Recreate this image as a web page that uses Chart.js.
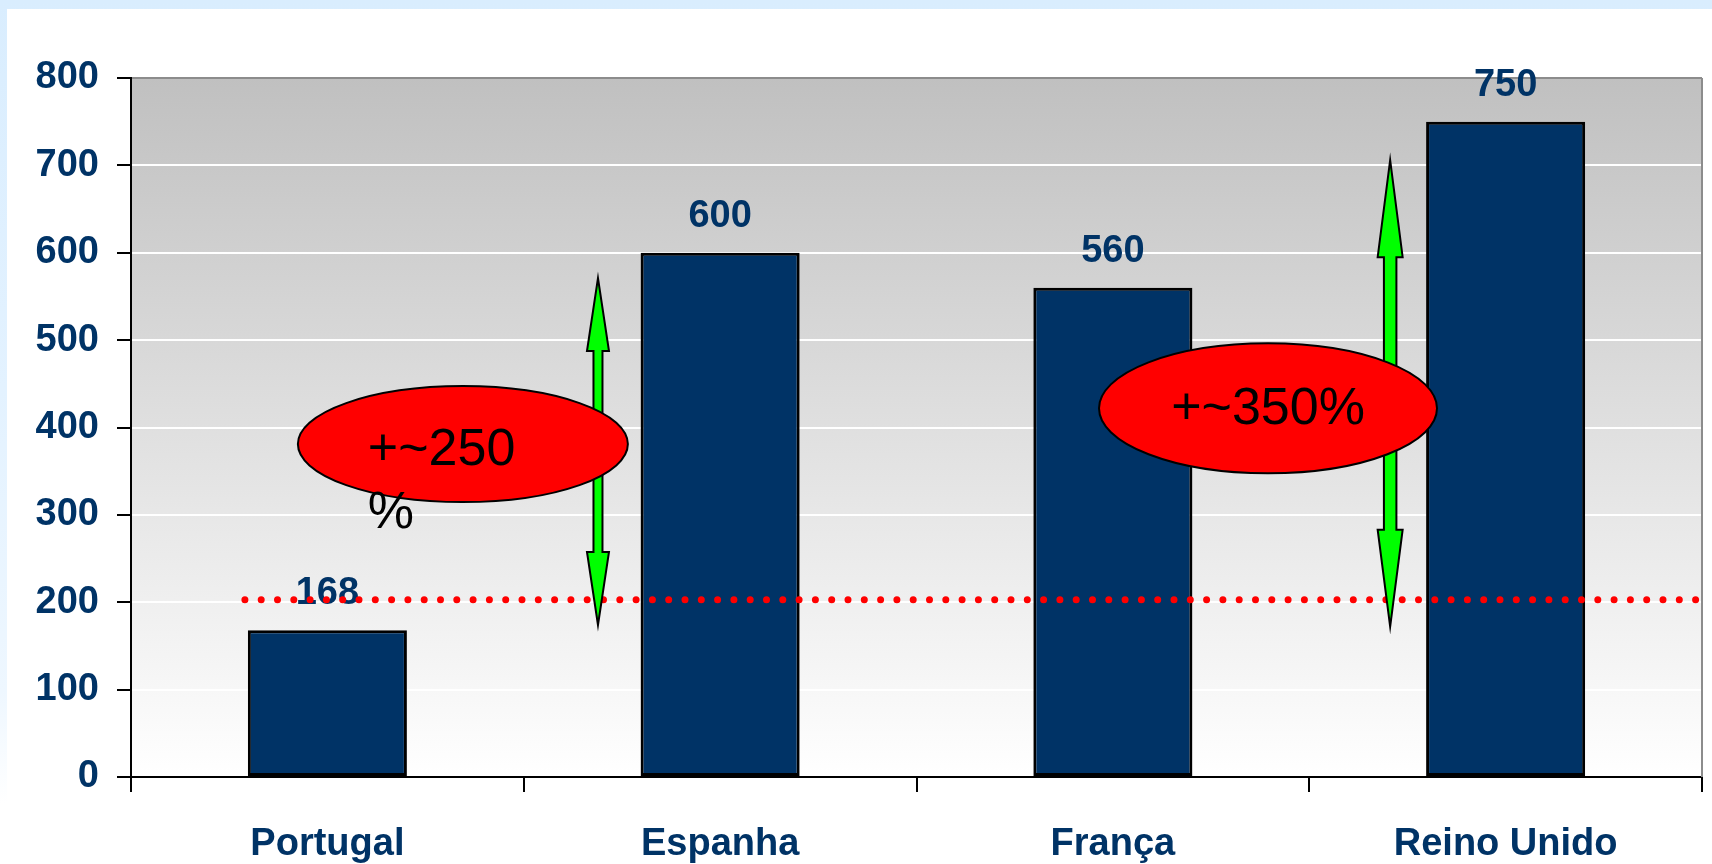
<!DOCTYPE html>
<html><head><meta charset="utf-8">
<script src="https://cdn.jsdelivr.net/npm/chart.js@4/dist/chart.umd.min.js"></script>
<style>
html,body{margin:0;padding:0;width:1712px;height:864px;overflow:hidden;}
body{background:linear-gradient(180deg,#d9edfe 0%,#e3f2ff 45%,#eef7ff 80%,#ffffff 93%);}
#panel{position:absolute;left:7px;top:9px;right:0;bottom:0;background:#ffffff;}
#wrap{position:absolute;left:0;top:0;width:1712px;height:864px;}
</style></head><body>
<div id="panel"></div>
<div id="wrap"><canvas id="c" width="1712" height="864"></canvas></div>
<script>
// ---- data ----
const categories = ['Portugal', 'Espanha', 'França', 'Reino Unido'];
const values = [168, 600, 560, 750];
const yTickValues = [0, 100, 200, 300, 400, 500, 600, 700, 800];
// reference dotted line (x in category-index units, y in data units)
const refLineX = [-0.21, 3.5];
const refLineY = [203, 203];
// green double arrows
const arrowX = [0.689, 2.706];
const arrowTop = [571, 706];
const arrowBottom = [174, 172];
// red callout ellipses
const bubbleX = [0.345, 2.395];
const bubbleY = [381, 422];
const bubbleLines = [['+~250', '%'], ['+~350%']];

// ---- styles ----
const NAVY = '#003366';
const FONT = "'Liberation Sans', Arial, Helvetica, sans-serif";
const arrowStyle = [
  {shaft: 9, headW: 22, headL: 73},
  {shaft: 12.5, headW: 25, headL: 97}
];
const bubbleStyle = [
  {rx: 165, ry: 58, align: 'left', dx: -95, dy: 21, lh: 63},
  {rx: 169, ry: 65, align: 'center', dx: 0, dy: 16, lh: 63}
];

const plotBg = {
  id: 'plotBg',
  beforeDraw(chart) {
    const {ctx, chartArea: a} = chart;
    const g = ctx.createLinearGradient(0, a.top, 0, a.bottom);
    g.addColorStop(0, '#c0c0c0');
    g.addColorStop(1, '#ffffff');
    ctx.save();
    ctx.fillStyle = g;
    ctx.fillRect(a.left, a.top, a.right - a.left, a.bottom - a.top);
    ctx.restore();
  },
  beforeDatasetsDraw(chart) {
    const {ctx, chartArea: a} = chart;
    ctx.save();
    ctx.strokeStyle = '#8c8c8c';
    ctx.lineWidth = 2;
    ctx.beginPath();
    ctx.moveTo(a.right, a.top);
    ctx.lineTo(a.right, a.bottom);
    ctx.stroke();
    ctx.strokeStyle = '#000';
    ctx.beginPath();
    ctx.moveTo(a.right, a.bottom);
    ctx.lineTo(a.right, a.bottom + 15);
    ctx.stroke();
    ctx.restore();
  }
};

const barLabels = {
  id: 'barLabels',
  afterDatasetDraw(chart, args) {
    if (args.meta.type !== 'bar') return;
    const ctx = chart.ctx;
    ctx.save();
    ctx.font = 'bold 38px ' + FONT;
    ctx.fillStyle = NAVY;
    ctx.textAlign = 'center';
    ctx.textBaseline = 'alphabetic';
    args.meta.data.forEach((el, i) => {
      ctx.fillText(String(values[i]), el.x, el.y - 26);
    });
    ctx.restore();
  }
};

const annotations = {
  id: 'annotations',
  afterDatasetsDraw(chart) {
    const ctx = chart.ctx;
    const xs = chart.scales.xl, ys = chart.scales.y;
    ctx.save();
    arrowX.forEach((xv, i) => {
      const s = arrowStyle[i];
      const cx = xs.getPixelForValue(xv);
      const t = ys.getPixelForValue(arrowTop[i]);
      const b = ys.getPixelForValue(arrowBottom[i]);
      const hw = s.headW / 2, sw = s.shaft / 2, hl = s.headL;
      ctx.beginPath();
      ctx.moveTo(cx, t);
      ctx.lineTo(cx + hw, t + hl);
      ctx.lineTo(cx + sw, t + hl);
      ctx.lineTo(cx + sw, b - hl);
      ctx.lineTo(cx + hw, b - hl);
      ctx.lineTo(cx, b);
      ctx.lineTo(cx - hw, b - hl);
      ctx.lineTo(cx - sw, b - hl);
      ctx.lineTo(cx - sw, t + hl);
      ctx.lineTo(cx - hw, t + hl);
      ctx.closePath();
      ctx.fillStyle = '#00ff00';
      ctx.fill();
      ctx.lineWidth = 2;
      ctx.lineJoin = 'miter';
      ctx.strokeStyle = '#000';
      ctx.stroke();
    });
    bubbleX.forEach((xv, i) => {
      const s = bubbleStyle[i];
      const cx = xs.getPixelForValue(xv);
      const cy = ys.getPixelForValue(bubbleY[i]);
      ctx.beginPath();
      ctx.ellipse(cx, cy, s.rx, s.ry, 0, 0, Math.PI * 2);
      ctx.fillStyle = '#ff0000';
      ctx.fill();
      ctx.lineWidth = 2;
      ctx.strokeStyle = '#000';
      ctx.stroke();
      ctx.font = '52px ' + FONT;
      ctx.fillStyle = '#000';
      ctx.textAlign = s.align;
      ctx.textBaseline = 'alphabetic';
      bubbleLines[i].forEach((line, k) => {
        ctx.fillText(line, cx + s.dx, cy + s.dy + k * s.lh);
      });
    });
    ctx.restore();
  }
};

new Chart(document.getElementById('c'), {
  type: 'bar',
  data: {
    labels: categories,
    datasets: [
      {
        type: 'bar',
        data: values,
        backgroundColor: NAVY,
        borderColor: '#000000',
        borderWidth: 3,
        borderSkipped: false,
        grouped: false,
        categoryPercentage: 1,
        barPercentage: 0.405,
        order: 1
      },
      {
        type: 'line',
        xAxisID: 'xl',
        data: refLineX.map((x, i) => ({x: x, y: refLineY[i]})),
        borderColor: '#ff0000',
        borderWidth: 7,
        borderDash: [0, 16.3],
        borderCapStyle: 'round',
        pointRadius: 0,
        fill: false,
        order: 0
      }
    ]
  },
  options: {
    responsive: false,
    animation: false,
    devicePixelRatio: 1,
    layout: {padding: {top: 78, right: 10, left: 0, bottom: 0}},
    plugins: {legend: {display: false}, tooltip: {enabled: false}},
    scales: {
      x: {
        type: 'category',
        offset: true,
        afterFit(scale) { scale.height = 87; },
        grid: {
          display: true, drawOnChartArea: false, offset: true,
          tickLength: 15, tickColor: '#000', tickWidth: 2, lineWidth: 2, color: '#000'
        },
        border: {display: true, color: '#000', width: 2},
        ticks: {
          color: NAVY, padding: 30,
          font: {family: FONT, size: 38, weight: 'bold'},
          maxRotation: 0, autoSkip: false
        }
      },
      xl: {
        type: 'linear', display: false, min: -0.5, max: 3.5, offset: false
      },
      y: {
        min: 0, max: 800,
        afterFit(scale) { scale.width = 131; },
        afterBuildTicks(scale) { scale.ticks = yTickValues.map(v => ({value: v})); },
        grid: {
          color: ctx => (ctx.tick && ctx.tick.value === 800) ? '#8c8c8c' : '#ffffff',
          lineWidth: 2, tickLength: 14, tickColor: '#000', tickWidth: 2
        },
        border: {display: true, color: '#000', width: 2},
        ticks: {
          color: NAVY, padding: 18,
          font: {family: FONT, size: 38, weight: 'bold'}
        }
      }
    }
  },
  plugins: [plotBg, barLabels, annotations]
});
</script>
</body></html>
